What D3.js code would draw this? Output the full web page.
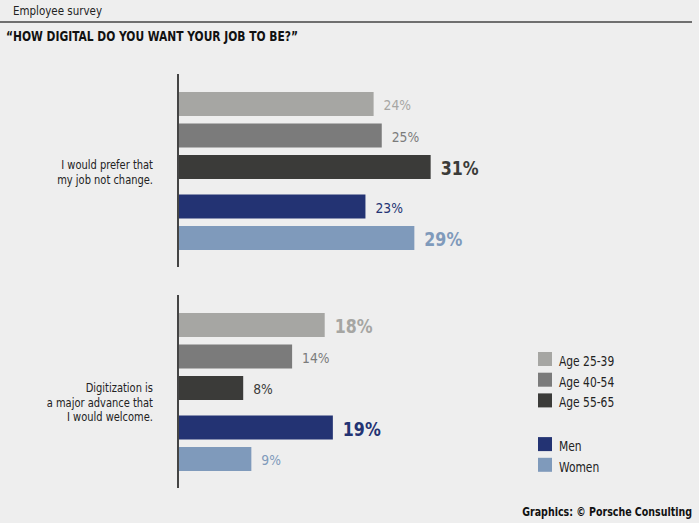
<!DOCTYPE html>
<html>
<head>
<meta charset="utf-8">
<script src="https://cdn.jsdelivr.net/npm/d3@7"></script>
<style>
  html, body { margin: 0; padding: 0; background: #eeeeee; }
  svg { display: block; font-family: "Liberation Sans Narrow", "DejaVu Sans Condensed", "Arial Narrow", sans-serif; }
</style>
</head>
<body>
<svg id="chart" width="699" height="523"></svg>
<script>
// ---- data ----
const categories = [
  ["I would prefer that", "my job not change."],
  ["Digitization is", "a major advance that", "I would welcome."]
];
const series = ["Age 25-39", "Age 40-54", "Age 55-65", "Men", "Women"];
const seriesColors = ["#a6a6a3", "#7b7b7b", "#3b3b39", "#233373", "#7f9abb"];
const valuesPrefer = [24, 25, 31, 23, 29];
const valuesDigitization = [18, 14, 8, 19, 9];
const ageSeries = ["Age 25-39", "Age 40-54", "Age 55-65"];
const genderSeries = ["Men", "Women"];
const headerText = "Employee survey";
const titleText = "\u201CHOW DIGITAL DO YOU WANT YOUR JOB TO BE?\u201D";
const footerText = "Graphics: \u00A9 Porsche Consulting";

const groupValues = [valuesPrefer, valuesDigitization];

// ---- helpers ----
function condense(sel, ratio) {
  sel.each(function () {
    const w = this.getComputedTextLength();
    d3.select(this).attr("textLength", w * ratio).attr("lengthAdjust", "spacingAndGlyphs");
  });
}
function fitWidth(sel, width) {
  sel.attr("textLength", width).attr("lengthAdjust", "spacingAndGlyphs");
}

// ---- layout ----
const svg = d3.select("#chart");
const axisX = 178;

const x = d3.scaleLinear().domain([0, 40]).range([axisX, axisX + 326]);
const groupY = d3.scaleBand().domain(d3.range(categories.length)).range([74, 516]);
const color = d3.scaleOrdinal().domain(series).range(seriesColors);

const barH = 24, step = 31.5, subGap = 8, topPad = 18;
function barY(g, i) {
  return groupY(g) + topPad + i * step + (i >= ageSeries.length ? subGap : 0);
}

// header
svg.append("text").attr("x", 13).attr("y", 15)
  .attr("font-size", 12).attr("fill", "#222").text(headerText)
  .call(fitWidth, 89);
svg.append("line").attr("x1", 0).attr("x2", 692).attr("y1", 22).attr("y2", 22)
  .attr("stroke", "#444").attr("stroke-width", 1.6);
svg.append("text").attr("x", 6).attr("y", 41)
  .attr("font-size", 14.5).attr("font-weight", "bold").attr("fill", "#111")
  .text(titleText)
  .call(fitWidth, 292);

// groups
categories.forEach((cat, g) => {
  const vals = groupValues[g];
  const ageMax = d3.max(vals.slice(0, ageSeries.length));
  const genMax = d3.max(vals.slice(ageSeries.length));
  const isBold = i => (i < ageSeries.length ? vals[i] === ageMax : vals[i] === genMax);
  const gEl = svg.append("g");

  gEl.selectAll("rect").data(series).join("rect")
    .attr("x", x(0))
    .attr("y", (s, i) => barY(g, i))
    .attr("width", (s, i) => x(vals[i]) - x(0))
    .attr("height", barH)
    .attr("fill", s => color(s));

  const vl = gEl.selectAll("text.val").data(series).join("text")
    .attr("class", "val")
    .attr("x", (s, i) => x(vals[i]) + 10)
    .attr("y", (s, i) => barY(g, i) + barH / 2 + (isBold(i) ? 8 : 6))
    .attr("font-size", (s, i) => (isBold(i) ? 20 : 14))
    .attr("font-weight", (s, i) => (isBold(i) ? "bold" : "normal"))
    .attr("fill", (s, i) => color(s))
    .text((s, i) => vals[i] + "%");
  vl.each(function (s, i) {
    d3.select(this).call(condense, isBold(i) ? 0.88 : 0.98);
  });

  // axis line
  gEl.append("line")
    .attr("x1", x(0)).attr("x2", x(0))
    .attr("y1", groupY(g)).attr("y2", groupY(g) + 193)
    .attr("stroke", "#444").attr("stroke-width", 2);

  // category label
  cat.forEach((line, k) => {
    gEl.append("text")
      .attr("text-anchor", "end")
      .attr("font-size", 12.5).attr("fill", "#222")
      .attr("x", 153)
      .attr("y", groupY(g) + 95 + (g === 1 ? 2 : 0) + k * 14.5)
      .text(line)
      .call(condense, 0.88);
  });
});

// legend
const legendRows = series.map((s, i) => ({ s, y: 352 + i * 20.7 + (i >= ageSeries.length ? 23 : 0) }));
const leg = svg.append("g");
leg.selectAll("rect").data(legendRows).join("rect")
  .attr("x", 538).attr("y", d => d.y).attr("width", 14).attr("height", 14)
  .attr("fill", d => color(d.s));
leg.selectAll("text").data(legendRows).join("text")
  .attr("x", 559).attr("y", d => d.y + 14)
  .attr("font-size", 14).attr("fill", "#222")
  .text(d => d.s)
  .call(condense, 0.85);

// footer (scaled horizontally via transform)
const footG = svg.append("g");
const footT = footG.append("text")
  .attr("text-anchor", "end").attr("font-size", 11.5).attr("font-weight", "bold")
  .attr("fill", "#111").text(footerText);
const fw = footT.node().getComputedTextLength();
footG.attr("transform", `translate(692,516) scale(${170 / fw},1)`);
</script>
</body>
</html>
